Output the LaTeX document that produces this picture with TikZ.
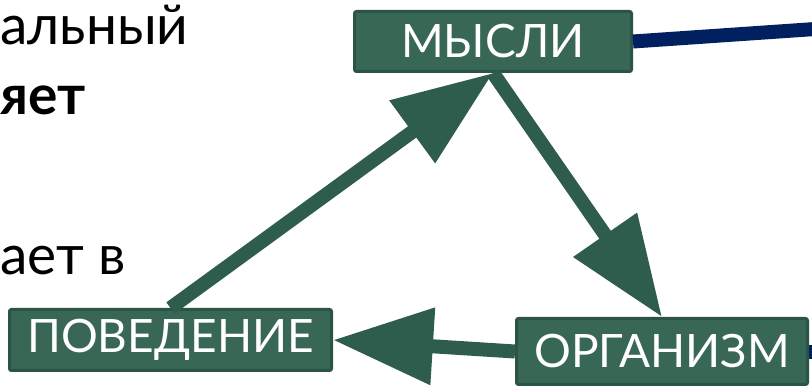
\documentclass[tikz,border=0pt]{standalone}
\usepackage{fontspec}
\setmainfont{Lato}
\usetikzlibrary{arrows.meta}
\definecolor{boxfill}{HTML}{386855}
\definecolor{boxline}{HTML}{2B5444}
\definecolor{arrcol}{HTML}{2F5D4D}
\definecolor{navy}{HTML}{002060}
\tikzset{
  box/.style={draw=boxline, line width=3pt, fill=boxfill, rounded corners=2pt,
    text=white, font=\fontsize{46}{50}\selectfont, inner sep=0pt, anchor=center},
  arr/.style={draw=arrcol, line width=14pt,
    -{Triangle[length=100pt,width=74pt]}},
  navyline/.style={draw=navy, line width=14pt},
  bodytext/.style={inner sep=0pt, anchor=base west, text=black,
    font=\fontsize{55}{60}\selectfont}
}
\begin{document}
\begin{tikzpicture}[x=1pt,y=-1pt]
\useasboundingbox (0,0) rectangle (812,387);
\node[bodytext] (t1) at (0,45) {альный};
\node[bodytext, font=\fontsize{55}{60}\selectfont\bfseries] (t2) at (0,115) {яет};
\node[bodytext] (t3) at (0,275) {ает в};
\coordinate (nr) at (830,28);
\coordinate (or) at (830,352);
\node[box, minimum width=277pt, minimum height=60pt] (mysli) at (493,41.5) {МЫСЛИ};
\draw[navyline] (mysli.east) -- (nr);
\node[box, minimum width=322pt, minimum height=61pt] (poved) at (170.5,340) {ПОВЕДЕНИЕ};
\draw[navyline] (656,352) -- (or);
\node[box, minimum width=291pt, minimum height=66pt] (org) at (662,351.5) {ОРГАНИЗМ};
\draw[arr] (poved.north) -- (mysli.south);
\draw[arr] (mysli.south) -- (org.north);
\draw[arr] (org.west) -- (poved.east);
\end{tikzpicture}
\end{document}
